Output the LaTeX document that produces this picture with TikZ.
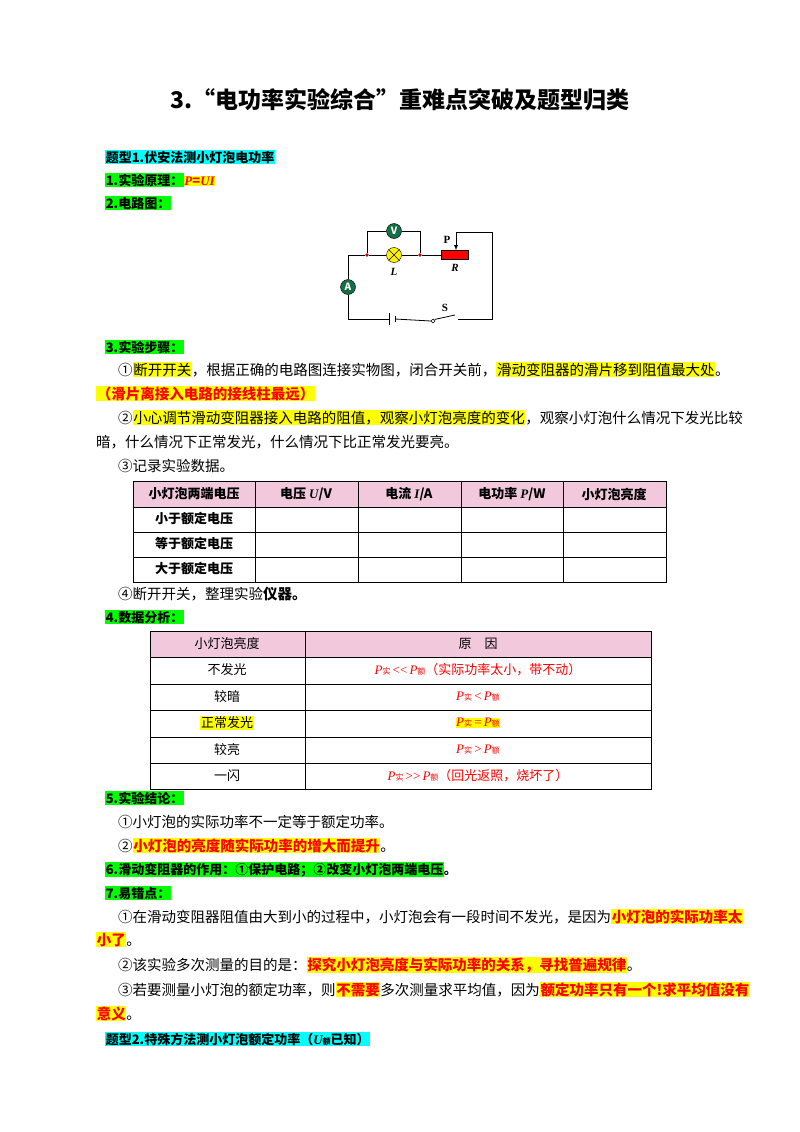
\documentclass[tikz,border=0pt]{standalone}
\usepackage{fontspec}
\setmainfont{Noto Sans CJK SC}
\newfontfamily\labfont{Liberation Serif}
\usetikzlibrary{positioning}
\definecolor{hlyellow}{RGB}{255,255,0}
\definecolor{hlgreen}{RGB}{0,255,0}
\definecolor{hlcyan}{RGB}{0,255,255}
\definecolor{headpink}{RGB}{242,200,220}
\definecolor{meterfill}{RGB}{20,110,70}
\newcommand{\hly}[1]{{\setlength\fboxsep{0.6pt}\colorbox{hlyellow}{#1}}}
\newcommand{\hlg}[1]{{\setlength\fboxsep{0.6pt}\colorbox{hlgreen}{#1}}}
\newcommand{\hlc}[1]{{\setlength\fboxsep{0.6pt}\colorbox{hlcyan}{#1}}}
\newcommand{\shi}{{\fontsize{8}{8}\selectfont 实}}
\newcommand{\e}{{\fontsize{8}{8}\selectfont 额}}
\newcommand{\vi}[1]{{\labfont\itshape #1}}
\tikzset{
  line/.style={anchor=base west, inner sep=0pt, font=\fontsize{14.5}{16}\selectfont},
  head/.style={line, font=\fontsize{13}{15}\selectfont\bfseries},
  cell/.style={inner sep=0pt, font=\fontsize{13}{15}\selectfont},
  meter/.style={circle, draw=black, fill=meterfill, text=white, minimum size=15pt, inner sep=0pt, font=\fontsize{10}{10}\selectfont\bfseries},
  wire/.style={line width=0.8pt},
  dot/.style={circle, fill=red!80!black, inner sep=1.3pt},
  lab/.style={font=\fontsize{11}{11}\selectfont\labfont\bfseries}
}
\begin{document}
\begin{tikzpicture}[x=1pt,y=-1pt]
\useasboundingbox (0,0) rectangle (800,1132);
\fill[white] (0,0) rectangle (800,1132);

% title
\node[font=\fontsize{23}{26}\selectfont\bfseries] (title) at (400,100) {3.“电功率实验综合”重难点突破及题型归类};

\node[head] (h1) at (105,162) {\hlc{题型1.伏安法测小灯泡电功率}};
\node[head] (h2) at (105,185) {\hlg{1.实验原理：}\hly{\textcolor{red}{\vi{P}={\vi{UI}}}}};
\node[head] (h3) at (105,208) {\hlg{2.电路图：}};

% circuit
\coordinate (tl) at (348,255);
\coordinate (bl) at (348,319);
\coordinate (br) at (492,319);
\coordinate (tr) at (492,232);
\coordinate (pt) at (456,232);
\node[dot] (j1) at (367,255) {};
\node[dot] (j2) at (420,255) {};
\node[circle, draw=black, fill=yellow, minimum size=15pt, inner sep=0pt] (lamp) at (394,255) {};
\draw (lamp.45) -- (lamp.225) (lamp.135) -- (lamp.315);
\node[meter] (V) at (394,231) {V};
\node[meter] (A) at (348,287) {A};
\node[draw=black, fill=red, minimum width=27pt, minimum height=9pt, inner sep=0pt] (R) at (455,255) {};
\node[circle, draw=black, fill=white, inner sep=1.4pt] (sw) at (433,321) {};
\coordinate (swend) at (455,315);
\draw[wire] (j1) -- (lamp) -- (j2) -- (R.west);
\draw[wire] (j1) |- (V) -| (j2);
\draw[wire] (j1) -- (tl) -- (A) -- (bl) -- (389,319);
\draw[wire] (389,313) -- (389,325) (395,316) -- (395,322);
\draw[wire] (395,319) -- (sw.west);
\draw[wire] (sw.north east) -- (swend);
\draw[wire] (458,319) -- (br) -- (tr) -- (pt);
\draw[wire,-latex] (pt) -- (R.north -| pt);
\node[lab] (Plab) at (447,240) {P};
\node[lab, font=\fontsize{11}{11}\selectfont\labfont\bfseries\itshape] (Rlab) at (455,268) {R};
\node[lab, font=\fontsize{11}{11}\selectfont\labfont\bfseries\itshape] (Llab) at (394,272) {L};
\node[lab] (Slab) at (445,308) {S};

% steps
\node[head] (h4) at (105,352) {\hlg{3.实验步骤：}};
\node[line] (s1) at (118,375) {①\hly{断开开关}，根据正确的电路图连接实物图，闭合开关前，\hly{滑动变阻器的滑片移到阻值最大处}。};
\node[line, font=\fontsize{14.5}{16}\selectfont\bfseries] (s1b) at (96,399) {\hly{\textcolor{red}{（滑片离接入电路的接线柱最远）}}};
\node[line] (s2) at (118,423) {②\hly{小心调节滑动变阻器接入电路的阻值，观察小灯泡亮度的变化}，观察小灯泡什么情况下发光比较};
\node[line] (s2b) at (96,447) {暗，什么情况下正常发光，什么情况下比正常发光要亮。};
\node[line] (s3) at (118,471) {③记录实验数据。};

% table 1
\fill[headpink] (133,481) rectangle (666,507);
\draw (133,481) rectangle (666,582);
\foreach \y in {507,532,557} \draw (133,\y) -- (666,\y);
\foreach \x in {255,358,461,563} \draw (\x,481) -- (\x,582);
\node[cell, font=\fontsize{13}{15}\selectfont\bfseries] (c11) at (194,494) {小灯泡两端电压};
\node[cell, font=\fontsize{13}{15}\selectfont\bfseries] (c12) at (306,494) {电压 \vi{U}/V};
\node[cell, font=\fontsize{13}{15}\selectfont\bfseries] (c13) at (409,494) {电流 \vi{I}/A};
\node[cell, font=\fontsize{13}{15}\selectfont\bfseries] (c14) at (512,494) {电功率 \vi{P}/W};
\node[cell, font=\fontsize{13}{15}\selectfont\bfseries] (c15) at (614,494) {小灯泡亮度};
\node[cell, font=\fontsize{13}{15}\selectfont\bfseries] (c21) at (194,519) {小于额定电压};
\node[cell, font=\fontsize{13}{15}\selectfont\bfseries] (c31) at (194,544) {等于额定电压};
\node[cell, font=\fontsize{13}{15}\selectfont\bfseries] (c41) at (194,569) {大于额定电压};

\node[line] (s4) at (118,599) {④断开开关，整理实验\textbf{仪器。}};
\node[head] (h5) at (105,622) {\hlg{4.数据分析：}};

% table 2
\fill[headpink] (150,631) rectangle (651,657);
\draw (150,631) rectangle (651,789);
\foreach \y in {657,684,710,737,763} \draw (150,\y) -- (651,\y);
\draw (305,631) -- (305,789);
\node[cell] (d11) at (227,644) {小灯泡亮度};
\node[cell] (d12) at (478,644) {原\quad 因};
\node[cell] (d21) at (227,670) {不发光};
\node[cell, text=red] (d22) at (478,670) {\vi{P}\shi\,{\labfont<<}\,\vi{P}\e（实际功率太小，带不动）};
\node[cell] (d31) at (227,697) {较暗};
\node[cell, text=red] (d32) at (478,697) {\vi{P}\shi\,{\labfont<}\,\vi{P}\e};
\node[cell] (d41) at (227,723) {\hly{正常发光}};
\node[cell, text=red] (d42) at (478,723) {\hly{\vi{P}\shi\,{\labfont=}\,\vi{P}\e}};
\node[cell] (d51) at (227,750) {较亮};
\node[cell, text=red] (d52) at (478,750) {\vi{P}\shi\,{\labfont>}\,\vi{P}\e};
\node[cell] (d61) at (227,776) {一闪};
\node[cell, text=red] (d62) at (478,776) {\vi{P}\shi\,{\labfont>>}\,\vi{P}\e（回光返照，烧坏了）};

% conclusions
\node[head] (h6) at (105,803) {\hlg{5.实验结论：}};
\node[line] (k1) at (118,827) {①小灯泡的实际功率不一定等于额定功率。};
\node[line] (k2) at (118,851) {②\hly{\textbf{\textcolor{red}{小灯泡的亮度随实际功率的增大而提升}}}。};
\node[head] (h7) at (105,874) {\hlg{6.滑动变阻器的作用：①保护电路；②改变小灯泡两端电压}。};
\node[head] (h8) at (105,898) {\hlg{7.易错点：}};
\node[line] (m1) at (118,922) {①在滑动变阻器阻值由大到小的过程中，小灯泡会有一段时间不发光，是因为\hly{\textbf{\textcolor{red}{小灯泡的实际功率太}}}};
\node[line] (m1b) at (96,945) {\hly{\textbf{\textcolor{red}{小了}}}。};
\node[line] (m2) at (118,970) {②该实验多次测量的目的是：\hly{\textbf{\textcolor{red}{探究小灯泡亮度与实际功率的关系，寻找普遍规律}}}。};
\node[line] (m3) at (118,995) {③若要测量小灯泡的额定功率，则\hly{\textbf{\textcolor{red}{不需要}}}多次测量求平均值，因为\hly{\textbf{\textcolor{red}{额定功率只有一个!求平均值没有}}}};
\node[line] (m3b) at (96,1019) {\hly{\textbf{\textcolor{red}{意义}}}。};
\node[head] (h9) at (105,1044) {\hlc{题型2.特殊方法测小灯泡额定功率（\vi{U}\e 已知）}};
\end{tikzpicture}
\end{document}
